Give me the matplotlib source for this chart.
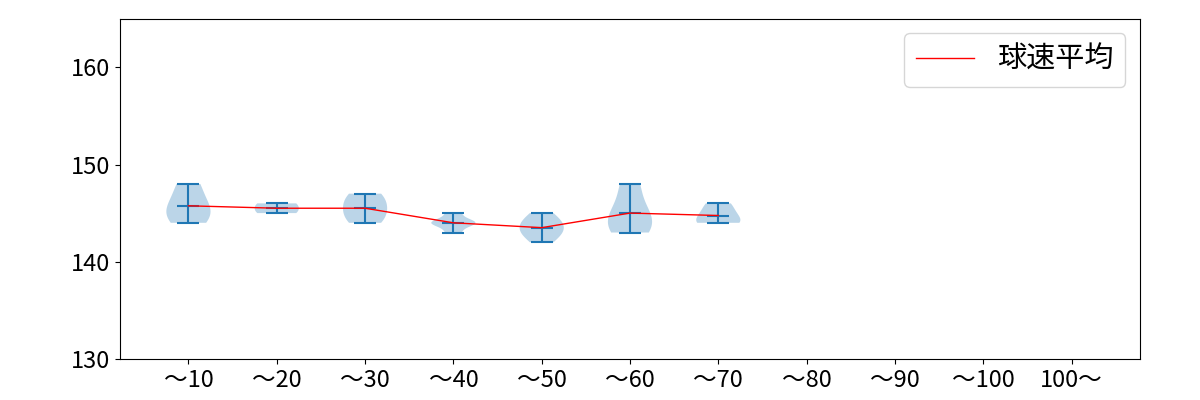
import matplotlib
matplotlib.use('Agg')
import matplotlib.pyplot as plt

plt.rcParams['font.family'] = ['Noto Sans CJK JP', 'DejaVu Sans']

# 投球数ごとの球速データ（読み取り値）
labels = ['〜10', '〜20', '〜30', '〜40', '〜50', '〜60', '〜70', '〜80', '〜90', '〜100', '100〜']
speeds = [
    [144, 145, 146, 148],
    [145, 146],
    [144, 145, 146, 147],
    [143, 143, 144, 144, 144, 144, 144, 144, 145, 145],
    [142, 143, 143, 144, 144, 145],
    [143, 144, 145, 148],
    [144, 144, 145, 146],
]
means = [sum(s) / len(s) for s in speeds]

fig, ax = plt.subplots(figsize=(12, 4), dpi=100)
plt.subplots_adjust(left=0.1, right=0.95, top=0.953, bottom=0.103)

pos = list(range(1, len(speeds) + 1))
ax.violinplot(speeds, positions=pos, showmeans=True)
ax.plot(pos, means, color='red', linewidth=1, label='球速平均')

ax.set_xticks(range(1, len(labels) + 1))
ax.set_xticklabels(labels, fontsize=17)
ax.set_yticks([130, 140, 150, 160])
ax.tick_params(axis='y', labelsize=17)
ax.set_xlim(0.225, 11.775)
ax.set_ylim(130, 165)
ax.legend(loc='upper right', fontsize=21)

plt.savefig('out.png', dpi=100)
